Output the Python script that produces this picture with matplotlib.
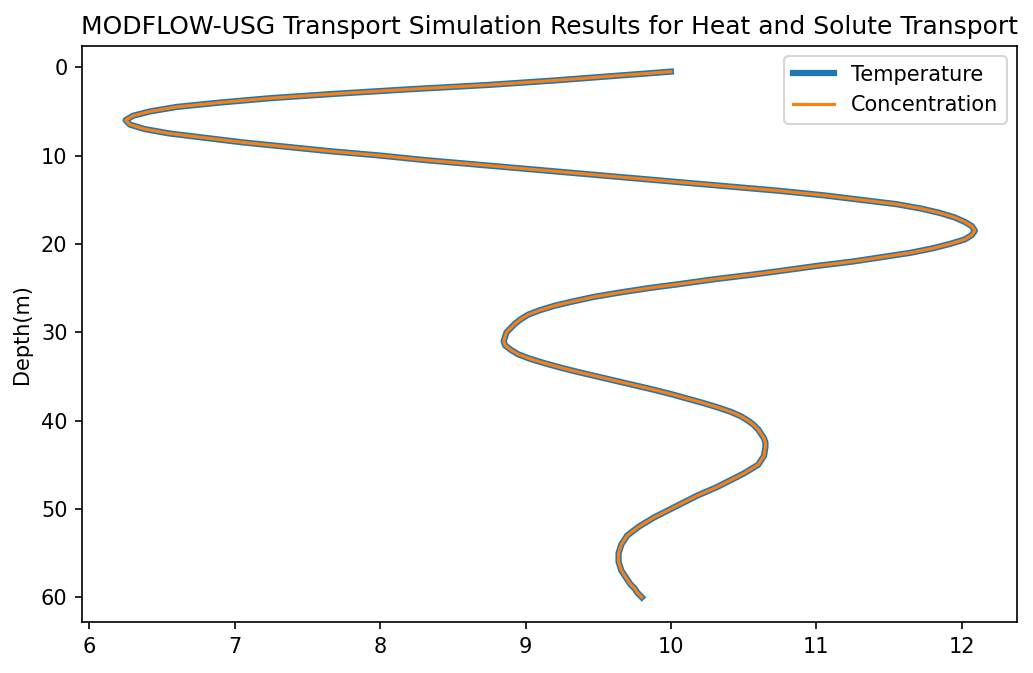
import numpy as np
import matplotlib
matplotlib.use("Agg")
import matplotlib.pyplot as plt

# depth profile (every half metre)
depth = [0.5, 1.0, 1.5, 2.0, 2.5, 3.0, 3.5, 4.0, 4.5, 5.0, 5.5, 6.0, 6.5, 7.0,
         7.5, 8.0, 8.5, 9.0, 9.5, 10.0, 10.5, 11.0, 11.5, 12.0, 12.5, 13.0,
         13.5, 14.0, 14.5, 15.0, 15.5, 16.0, 16.5, 17.0, 17.5, 18.0, 18.5,
         19.0, 19.5, 20.0, 20.5, 21.0, 21.5, 22.0, 22.5, 23.0, 23.5, 24.0,
         24.5, 25.0, 25.5, 26.0, 26.5, 27.0, 27.5, 28.0, 28.5, 29.0, 29.5,
         30.0, 30.5, 31.0, 31.5, 32.0, 32.5, 33.0, 33.5, 34.0, 34.5, 35.0,
         35.5, 36.0, 36.5, 37.0, 37.5, 38.0, 38.5, 39.0, 39.5, 40.0, 40.5,
         41.0, 41.5, 42.0, 42.5, 43.0, 43.5, 44.0, 44.5, 45.0, 45.5, 46.0,
         46.5, 47.0, 47.5, 48.0, 48.5, 49.0, 49.5, 50.0, 50.5, 51.0, 51.5,
         52.0, 52.5, 53.0, 53.5, 54.0, 54.5, 55.0, 55.5, 56.0, 56.5, 57.0,
         57.5, 58.0, 58.5, 59.0, 59.5, 60.0]
temperature = [10.0, 9.6, 9.2, 8.75, 8.2, 7.7, 7.25, 6.9, 6.6, 6.42, 6.3, 6.25,
               6.28, 6.38, 6.55, 6.8, 7.05, 7.35, 7.65, 8.0, 8.3, 8.65, 9.0,
               9.35, 9.7, 10.05, 10.4, 10.75, 11.05, 11.3, 11.55, 11.72, 11.85,
               11.95, 12.02, 12.07, 12.09, 12.07, 12.02, 11.92, 11.8, 11.65,
               11.45, 11.25, 11.0, 10.78, 10.55, 10.3, 10.08, 9.85, 9.65, 9.47,
               9.33, 9.2, 9.1, 9.02, 8.97, 8.93, 8.9, 8.87, 8.86, 8.85, 8.86,
               8.9, 8.95, 9.03, 9.13, 9.24, 9.36, 9.49, 9.62, 9.75, 9.88, 10.0,
               10.11, 10.22, 10.32, 10.41, 10.48, 10.53, 10.57, 10.6, 10.62,
               10.64, 10.65, 10.65, 10.645, 10.64, 10.62, 10.6, 10.55, 10.5,
               10.44, 10.38, 10.32, 10.25, 10.18, 10.12, 10.06, 10.0, 9.94,
               9.88, 9.83, 9.78, 9.74, 9.7, 9.68, 9.66, 9.65, 9.64, 9.64, 9.64,
               9.65, 9.66, 9.68, 9.7, 9.72, 9.75, 9.77, 9.8]
concentration = list(temperature)

fig = plt.figure(figsize=(1033 / 150, 673 / 150), dpi=150)
ax = fig.add_axes([82 / 1033, 51 / 673, (1017 - 82) / 1033, (622 - 46) / 673])

ax.plot(temperature, depth, color="#1f77b4", lw=3, label="Temperature")
ax.plot(concentration, depth, color="#ff7f0e", lw=1.5, label="Concentration")

ax.set_ylim(62.8, -2.4)
ax.set_xlim(5.95, 12.38)
ax.set_ylabel("Depth(m)")
ax.set_title("MODFLOW-USG Transport Simulation Results for Heat and Solute Transport")
ax.legend(loc="upper right")

fig.savefig("out.png", dpi=150)
